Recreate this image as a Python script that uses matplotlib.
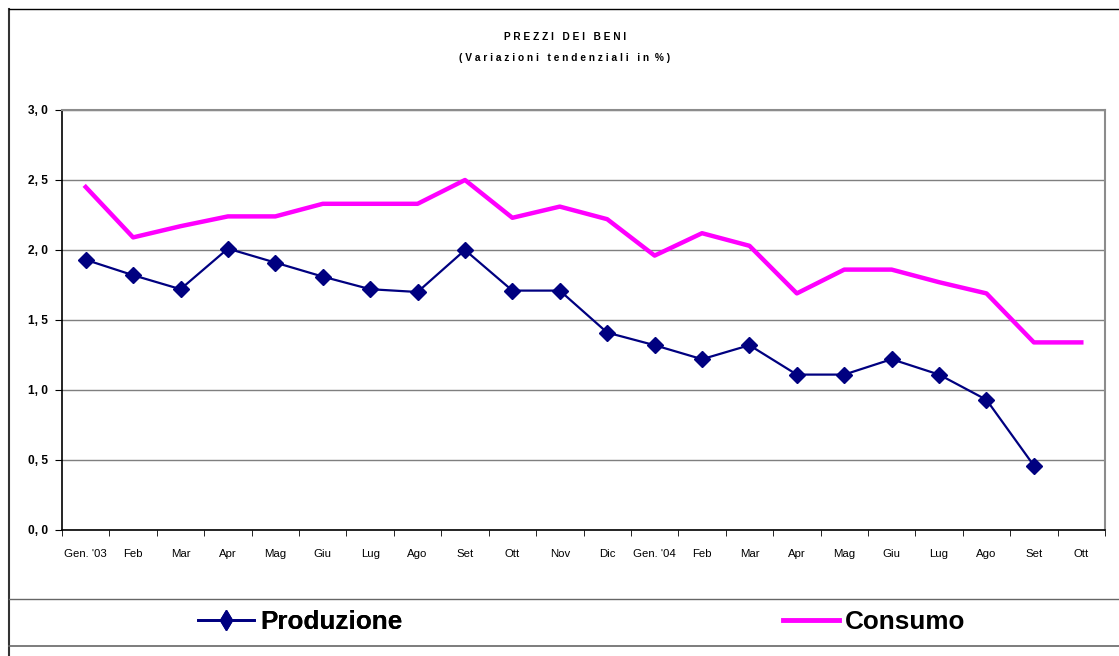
import matplotlib
matplotlib.use('Agg')
import matplotlib.pyplot as plt
import numpy as np
from matplotlib import ticker
from matplotlib.lines import Line2D

mesi = ['Gen. \'03', 'Feb', 'Mar', 'Apr', 'Mag', 'Giu', 'Lug', 'Ago', 'Set', 'Ott', 'Nov',
        'Dic', 'Gen. \'04', 'Feb', 'Mar', 'Apr', 'Mag', 'Giu', 'Lug', 'Ago', 'Set', 'Ott']
produzione = [1.93, 1.82, 1.72, 2.01, 1.91, 1.81, 1.72, 1.70, 2.00, 1.71, 1.71,
              1.41, 1.32, 1.22, 1.32, 1.11, 1.11, 1.22, 1.11, 0.93, 0.46, np.nan]
consumo = [2.45, 2.09, 2.17, 2.24, 2.24, 2.33, 2.33, 2.33, 2.50, 2.23, 2.31,
           2.22, 1.96, 2.12, 2.03, 1.69, 1.86, 1.86, 1.77, 1.69, 1.34, 1.34]

W, H = 1119, 656
fig = plt.figure(figsize=(W / 100, H / 100), dpi=100)
ax = fig.add_axes([62 / W, (H - 530) / H, (1105 - 62) / W, 420 / H])

x = np.arange(len(mesi)) + 0.5
ax.plot(x, produzione, color='#000080', lw=1.6, marker='D', ms=8.5, label='Produzione', zorder=3)
ax.plot(x, consumo, color='#ff00ff', lw=3.2, label='Consumo', zorder=3)

ax.set_xlim(0, len(mesi))
ax.set_ylim(0, 3.0)

# grid and frame
ax.yaxis.set_major_locator(ticker.MultipleLocator(0.5))
ax.yaxis.set_major_formatter(ticker.FuncFormatter(lambda v, p: ('%.1f' % v).replace('.', ', ')))
ax.grid(axis='y', color='#7f7f7f', lw=1.0)
ax.set_axisbelow(True)
for s in ['top', 'right']:
    ax.spines[s].set_color('#8c8c8c')
    ax.spines[s].set_linewidth(1.5)
for s in ['left', 'bottom']:
    ax.spines[s].set_color('black')
    ax.spines[s].set_linewidth(1.2)

ax.set_xticks(x)
ax.set_xticklabels(mesi, family='Liberation Sans', fontsize=8.2)
ax.set_xticks(np.arange(len(mesi) + 1), minor=True)
ax.tick_params(axis='x', which='major', length=0, pad=14)
ax.tick_params(axis='x', which='minor', length=4, direction='out', color='black')
ax.tick_params(axis='y', length=5, direction='out', pad=5, labelsize=8.6)
for lab in ax.get_yticklabels():
    lab.set_fontweight('bold')
    lab.set_family('Liberation Sans')

fig.text(565 / W, 1 - 37 / H, 'P R E Z Z I   D E I   B E N I', ha='center', va='center',
         fontsize=7.3, fontweight='bold', family='Liberation Sans')
fig.text(565 / W, 1 - 58 / H, '( V a r i a z i o n i   t e n d e n z i a l i   i n  % )', ha='center',
         va='center', fontsize=7.3, fontweight='bold', family='Liberation Sans')

# outer border and legend box lines
fig.add_artist(Line2D([8.5 / W, 8.5 / W], [0, 1 - 9 / H], color='#333333', lw=1.5))
fig.add_artist(Line2D([8.5 / W, 1], [1 - 9 / H, 1 - 9 / H], color='black', lw=1.0))
fig.add_artist(Line2D([8.5 / W, 1], [1 - 599 / H, 1 - 599 / H], color='#666666', lw=1.0))
fig.add_artist(Line2D([8.5 / W, 1], [1 - 646 / H, 1 - 646 / H], color='#666666', lw=1.2))

# two legend entries, each anchored at its own handle
leg_kw = dict(loc='center left', frameon=False, borderpad=0, borderaxespad=0,
              prop={'family': 'Liberation Sans', 'weight': 'bold', 'size': 18.8},
              handlelength=2.15, handletextpad=0.23)
h_prod = Line2D([], [], color='#000080', lw=2, marker='d', ms=10)
h_cons = Line2D([], [], color='#ff00ff', lw=3.5)
leg1 = fig.legend([h_prod], ['Produzione'], bbox_to_anchor=(198 / W, 1 - 622 / H), **leg_kw)
fig.legend([h_cons], ['Consumo'], bbox_to_anchor=(783 / W, 1 - 622 / H), **leg_kw)
fig.add_artist(leg1)

fig.savefig('out.png', dpi=100)
